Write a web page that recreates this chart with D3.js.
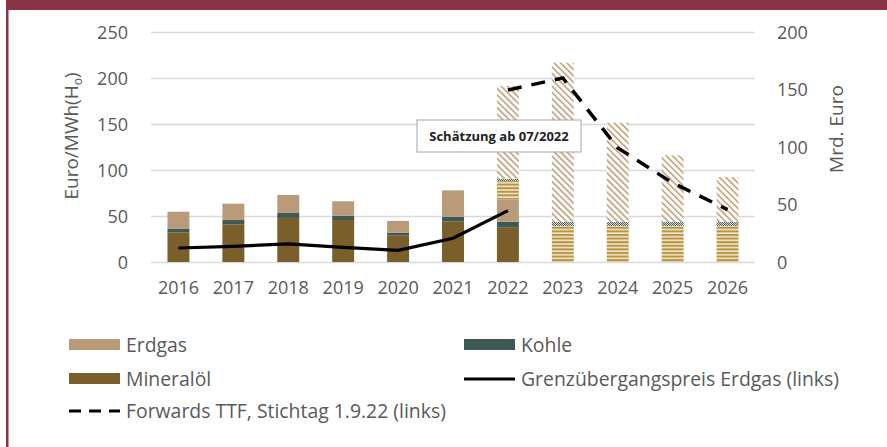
<!DOCTYPE html>
<html>
  <head>
    <meta charset="utf-8">
    <title></title>
  </head>
  <style>
    body{
      margin: 0;
      background-color: #fff;
      font-family: "Open Sans";
    }
    .grid line{
      stroke: #d9d9d9;
      stroke-width: 1.5;
    }
    .tick text, .lbl{
      fill: #595959;
    }
  </style>
  <script src="https://d3js.org/d3.v7.min.js"></script>
  <body>
    <script>
    // Werte (Balken in Mrd. Euro, rechte Achse; Linien in Euro/MWh, linke Achse)
    const years = ['2016','2017','2018','2019','2020','2021','2022','2023','2024','2025','2026']
    const mineraloel    = [25.8, 32.8, 38.3, 36.5, 23.2, 35.4, 29.8, 0, 0, 0, 0]
    const kohle         = [2.9, 3.7, 4.3, 3.8, 2.3, 4.0, 5.2, 0, 0, 0, 0]
    const erdgas        = [15.0, 14.2, 15.7, 12.5, 10.2, 22.9, 19.5, 0, 0, 0, 0]
    const mineraloelEst = [0, 0, 0, 0, 0, 0, 15.9, 31.3, 31.3, 31.3, 31.3]
    const kohleEst      = [0, 0, 0, 0, 0, 0, 2.0, 3.5, 3.5, 3.5, 3.5]
    const erdgasEst     = [0, 0, 0, 0, 0, 0, 80.6, 138.5, 86.3, 58.0, 39.1]

    const grenzYears = ['2016','2017','2018','2019','2020','2021','2022']
    const grenzpreis = [15.2, 17.0, 19.6, 16.0, 12.7, 25.8, 55.8]
    const fwdYears = ['2022','2023','2024','2025','2026']
    const forwards = [187, 200, 124, 86, 57]

    const leftTicks = [0, 50, 100, 150, 200, 250]
    const rightTicks = [0, 50, 100, 150, 200]

    var W = 887, H = 447
    var plot = { left: 151, right: 755, top: 32, bottom: 262 }

    var svg = d3.select("body").append("svg")
                .attr("width", W)
                .attr("height", H)

    // Muster fuer Schaetzung
    var defs = svg.append("defs")
    var p1 = defs.append("pattern").attr("id", "pErdgas")
       .attr("patternUnits", "userSpaceOnUse").attr("width", 4.5).attr("height", 4.5)
       .attr("patternTransform", "rotate(-45)")
    p1.append("rect").attr("width", 4.5).attr("height", 4.5).attr("fill", "#fff")
    p1.append("rect").attr("width", 1.8).attr("height", 4.5).attr("fill", "#c9aa88")

    var p2 = defs.append("pattern").attr("id", "pMin")
       .attr("patternUnits", "userSpaceOnUse").attr("width", 4).attr("height", 3.6)
    p2.append("rect").attr("width", 4).attr("height", 3.6).attr("fill", "#efe6cf")
    p2.append("rect").attr("width", 4).attr("height", 2).attr("fill", "#b89442")

    var p3 = defs.append("pattern").attr("id", "pKohle")
       .attr("patternUnits", "userSpaceOnUse").attr("width", 2).attr("height", 2)
    p3.append("rect").attr("width", 2).attr("height", 2).attr("fill", "#d7dcda")
    p3.append("rect").attr("width", 1).attr("height", 1).attr("fill", "#4d6661")
    p3.append("rect").attr("x", 1).attr("y", 1).attr("width", 1).attr("height", 1).attr("fill", "#4d6661")

    // Rahmen
    svg.append("rect").attr("x", 6).attr("y", 0).attr("width", W - 6).attr("height", 10).attr("fill", "#8b3347")
    svg.append("rect").attr("x", 6).attr("y", 0).attr("width", 2.5).attr("height", H).attr("fill", "#8b3347")

    // Skalen
    var x = d3.scaleBand().domain(years).range([plot.left, plot.right])
              .paddingInner(0.6).paddingOuter(0.3)
    var yL = d3.scaleLinear().domain([0, 250]).range([plot.bottom, plot.top])
    var yR = d3.scaleLinear().domain([0, 200]).range([plot.bottom, plot.top])

    // Gitter
    svg.append("g").attr("class", "grid")
       .attr("transform", "translate(" + plot.left + ",0)")
       .call(d3.axisLeft(yL).tickValues(leftTicks).tickSize(-(plot.right - plot.left)).tickFormat(""))
       .call(g => g.select(".domain").remove())

    // linke Achse
    svg.append("g")
       .attr("transform", "translate(" + (plot.left - 20) + ",0)")
       .call(d3.axisLeft(yL).tickValues(leftTicks).tickSize(0))
       .call(g => g.select(".domain").remove())
       .selectAll("text").attr("font-size", "18px").attr("font-family", "Open Sans").attr("dy", "0.35em")

    // rechte Achse
    svg.append("g")
       .attr("transform", "translate(" + (plot.right + 19) + ",0)")
       .call(d3.axisRight(yR).tickValues(rightTicks).tickSize(0))
       .call(g => g.select(".domain").remove())
       .selectAll("text").attr("font-size", "18px").attr("font-family", "Open Sans").attr("dy", "0.35em")

    // x-Achse
    svg.append("g")
       .attr("transform", "translate(0," + (plot.bottom + 16) + ")")
       .call(d3.axisBottom(x).tickSize(0))
       .call(g => g.select(".domain").remove())
       .selectAll("text").attr("font-size", "18px").attr("font-family", "Open Sans").attr("dy", "0.71em")

    // Achsentitel
    var tl = svg.append("text").attr("class", "lbl")
       .attr("transform", "translate(78,136) rotate(-90)")
       .attr("text-anchor", "middle").attr("font-size", "19px")
    tl.append("tspan").text("Euro/MWh(H")
    tl.append("tspan").text("o").attr("font-size", "12px").attr("dy", "4")
    tl.append("tspan").text(")").attr("dy", "-4")

    svg.append("text").attr("class", "lbl")
       .attr("transform", "translate(843,129) rotate(-90)")
       .attr("text-anchor", "middle").attr("font-size", "19px")
       .text("Mrd. Euro")

    // Balken
    var keys = ["mineraloel", "kohle", "erdgas", "mineraloelEst", "kohleEst", "erdgasEst"]
    var fills = {
      mineraloel: "#7a5f2a", kohle: "#3f5a55", erdgas: "#b99b7a",
      mineraloelEst: "url(#pMin)", kohleEst: "url(#pKohle)", erdgasEst: "url(#pErdgas)"
    }
    var table = years.map(function(y, i){
      return { year: y, mineraloel: mineraloel[i], kohle: kohle[i], erdgas: erdgas[i],
               mineraloelEst: mineraloelEst[i], kohleEst: kohleEst[i], erdgasEst: erdgasEst[i] }
    })
    var stacked = d3.stack().keys(keys)(table)

    svg.append("g").selectAll("g")
       .data(stacked)
       .enter().append("g")
       .attr("fill", d => fills[d.key])
       .selectAll("rect")
       .data(d => d.filter(s => s[1] - s[0] > 0))
       .enter().append("rect")
       .attr("x", d => x(d.data.year))
       .attr("width", x.bandwidth())
       .attr("y", d => yR(d[1]))
       .attr("height", d => yR(d[0]) - yR(d[1]))

    // Linien
    var gLine = d3.line().x(d => x(d[0]) + x.bandwidth() / 2).y(d => yL(d[1]))
    svg.append("path")
       .datum(grenzYears.map((y, i) => [y, grenzpreis[i]]))
       .attr("d", gLine)
       .attr("fill", "none").attr("stroke", "#000").attr("stroke-width", 3.2)

    svg.append("path")
       .datum(fwdYears.map((y, i) => [y, forwards[i]]))
       .attr("d", gLine)
       .attr("fill", "none").attr("stroke", "#000").attr("stroke-width", 3.5)
       .attr("stroke-dasharray", "14,10")

    // Hinweis
    svg.append("rect").attr("x", 417).attr("y", 120).attr("width", 164).attr("height", 32)
       .attr("fill", "#fff").attr("stroke", "#a6a6a6").attr("stroke-width", 1)
    svg.append("text").attr("x", 499).attr("y", 136).attr("dy", "0.35em")
       .attr("text-anchor", "middle").attr("font-size", "13px").attr("font-weight", "bold")
       .attr("fill", "#222").text("Schätzung ab 07/2022")

    // Legende
    var legend = [
      { label: "Erdgas", type: "rect", color: "#b99b7a", x: 69, y: 345 },
      { label: "Kohle", type: "rect", color: "#3f5a55", x: 464, y: 345 },
      { label: "Mineralöl", type: "rect", color: "#7a5f2a", x: 69, y: 379 },
      { label: "Grenzübergangspreis Erdgas (links)", type: "line", x: 464, y: 379 },
      { label: "Forwards TTF, Stichtag 1.9.22 (links)", type: "dash", x: 69, y: 411 }
    ]
    var lg = svg.append("g").selectAll("g").data(legend).enter().append("g")
       .attr("transform", d => "translate(" + d.x + "," + d.y + ")")
    lg.filter(d => d.type == "rect").append("rect")
       .attr("y", -6).attr("width", 51).attr("height", 11).attr("fill", d => d.color)
    lg.filter(d => d.type != "rect").append("line")
       .attr("x1", 0).attr("x2", 51).attr("y1", 0).attr("y2", 0)
       .attr("stroke", "#000").attr("stroke-width", 3.2)
       .attr("stroke-dasharray", d => d.type == "dash" ? "12,8" : null)
    lg.append("text").attr("class", "lbl")
       .attr("x", 57).attr("dy", "0.35em")
       .attr("font-size", "19.4px")
       .text(d => d.label)
    </script>
  </body>
</html>
